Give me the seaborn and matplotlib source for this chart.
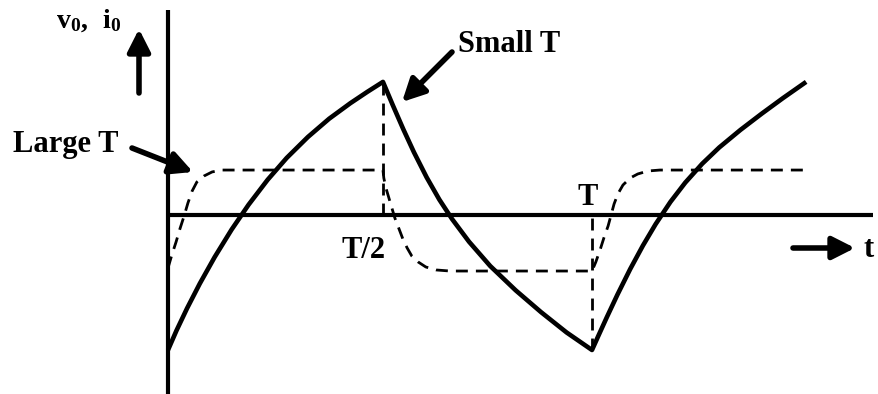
import numpy as np
import pandas as pd
import seaborn as sns
import matplotlib.pyplot as plt

# t en unidades de T, v normalizado (1 = pico de la curva "Small T")
t_small_1 = [0.0, 0.02, 0.045, 0.075, 0.11, 0.15, 0.19, 0.235, 0.28, 0.33, 0.38, 0.43, 0.47, 0.507]
v_small_1 = [-1.0, -0.856, -0.691, -0.508, -0.312, -0.108, 0.076, 0.261, 0.423, 0.578, 0.713, 0.828, 0.912, 0.986]
t_small_2 = [0.53, 0.555, 0.58, 0.61, 0.64, 0.67, 0.71, 0.76, 0.82, 0.88, 0.94, 1.0]
v_small_2 = [0.815, 0.635, 0.465, 0.279, 0.114, -0.030, -0.198, -0.378, -0.558, -0.72, -0.87, -1.0]
t_small_3 = [1.015, 1.035, 1.06, 1.09, 1.12, 1.15, 1.185, 1.22, 1.26, 1.30, 1.35, 1.40, 1.45, 1.505]
v_small_3 = [-0.895, -0.757, -0.590, -0.401, -0.227, -0.068, 0.097, 0.240, 0.380, 0.500, 0.630, 0.750, 0.865, 0.986]

# curva discontinua "Large T"
t_large_1 = [0.0, 0.009, 0.019, 0.028, 0.038, 0.047, 0.057, 0.068, 0.085, 0.104, 0.127, 0.17, 0.507]
v_large_1 = [-0.393, -0.296, -0.200, -0.104, -0.007, 0.089, 0.178, 0.244, 0.289, 0.319, 0.333, 0.333, 0.333]
t_large_2 = [0.509, 0.514, 0.521, 0.528, 0.535, 0.545, 0.554, 0.564, 0.575, 0.590, 0.608, 0.632, 0.665, 1.0]
v_large_2 = [0.274, 0.200, 0.126, 0.052, -0.022, -0.104, -0.178, -0.244, -0.304, -0.348, -0.385, -0.407, -0.415, -0.415]
t_large_3 = [1.009, 1.019, 1.028, 1.038, 1.045, 1.052, 1.061, 1.073, 1.090, 1.108, 1.132, 1.160, 1.505]
v_large_3 = [-0.348, -0.259, -0.170, -0.081, 0.0, 0.081, 0.156, 0.222, 0.274, 0.304, 0.326, 0.333, 0.333]

t_half = 0.507
t_full = 1.0
v_peak = 0.986
v_min = -1.0

df_small = pd.DataFrame({'t': t_small_1 + t_small_2 + t_small_3,
                         'v': v_small_1 + v_small_2 + v_small_3})
df_large = pd.DataFrame({'t': t_large_1 + t_large_2 + t_large_3,
                         'v': v_large_1 + v_large_2 + v_large_3})

sns.set_style('white')
plt.rcParams['font.family'] = ['Liberation Serif', 'DejaVu Serif']
plt.rcParams['font.weight'] = 'bold'
plt.rcParams['text.color'] = 'black'
plt.rcParams['mathtext.fontset'] = 'custom'
plt.rcParams['mathtext.bf'] = 'Liberation Serif:bold'
plt.rcParams['mathtext.rm'] = 'Liberation Serif:bold'

W, H = 879, 394
fig = plt.figure(figsize=(W / 100, H / 100), dpi=100)
ax = fig.add_axes([0, 0, 1, 1])
ax.set_xlim(-168 / 424, 711 / 424)
ax.set_ylim(-179 / 135, 215 / 135)
ax.axis('off')

# ejes
ax.plot([0, 0], [-179 / 135, 205 / 135], color='k', lw=3.0, solid_capstyle='butt')
ax.plot([0, 705 / 424], [0, 0], color='k', lw=3.0, solid_capstyle='butt')

dash = (0, (4.3, 2.9))
sns.lineplot(data=df_small, x='t', y='v', sort=False, estimator=None, color='k',
             lw=3.3, solid_joinstyle='round', solid_capstyle='butt', ax=ax)
sns.lineplot(data=df_large, x='t', y='v', sort=False, estimator=None, color='k',
             lw=2.0, linestyle=dash, ax=ax)
ax.vlines(t_half, 0, v_peak, color='k', lw=2.0, linestyle=dash)
ax.vlines(t_full, v_min, 0, color='k', lw=2.0, linestyle=dash)


def fp(x, y):
    return (x, H - y)


arrow = dict(arrowstyle='-|>,head_length=0.75,head_width=0.38', color='k', lw=4.0,
             shrinkA=0, shrinkB=0, mutation_scale=18)
for start, end in [((139, 93), (139, 29)), ((452, 52), (402, 102)),
                   ((132, 148), (193, 172)), ((793, 248), (855, 248))]:
    ax.annotate('', xy=fp(*end), xytext=fp(*start), xycoords='figure pixels',
                textcoords='figure pixels', arrowprops=arrow)

txt = dict(xycoords='figure pixels', ha='left', va='baseline', fontsize=22,
           fontweight='bold', color='black')
ax.annotate('Small T', xy=fp(458, 52), **txt)
ax.annotate('Large T', xy=fp(13, 152), **txt)
ax.annotate('T/2', xy=fp(342, 258), **txt)
ax.annotate('T', xy=fp(577, 205), **txt)
ax.annotate('t', xy=fp(863, 257), **txt)
ax.annotate(r'$\mathbf{v_0,\ i_0}$', xy=fp(56, 28), xycoords='figure pixels',
            ha='left', va='baseline', fontsize=20, color='black')

fig.savefig('out.png', dpi=100)
